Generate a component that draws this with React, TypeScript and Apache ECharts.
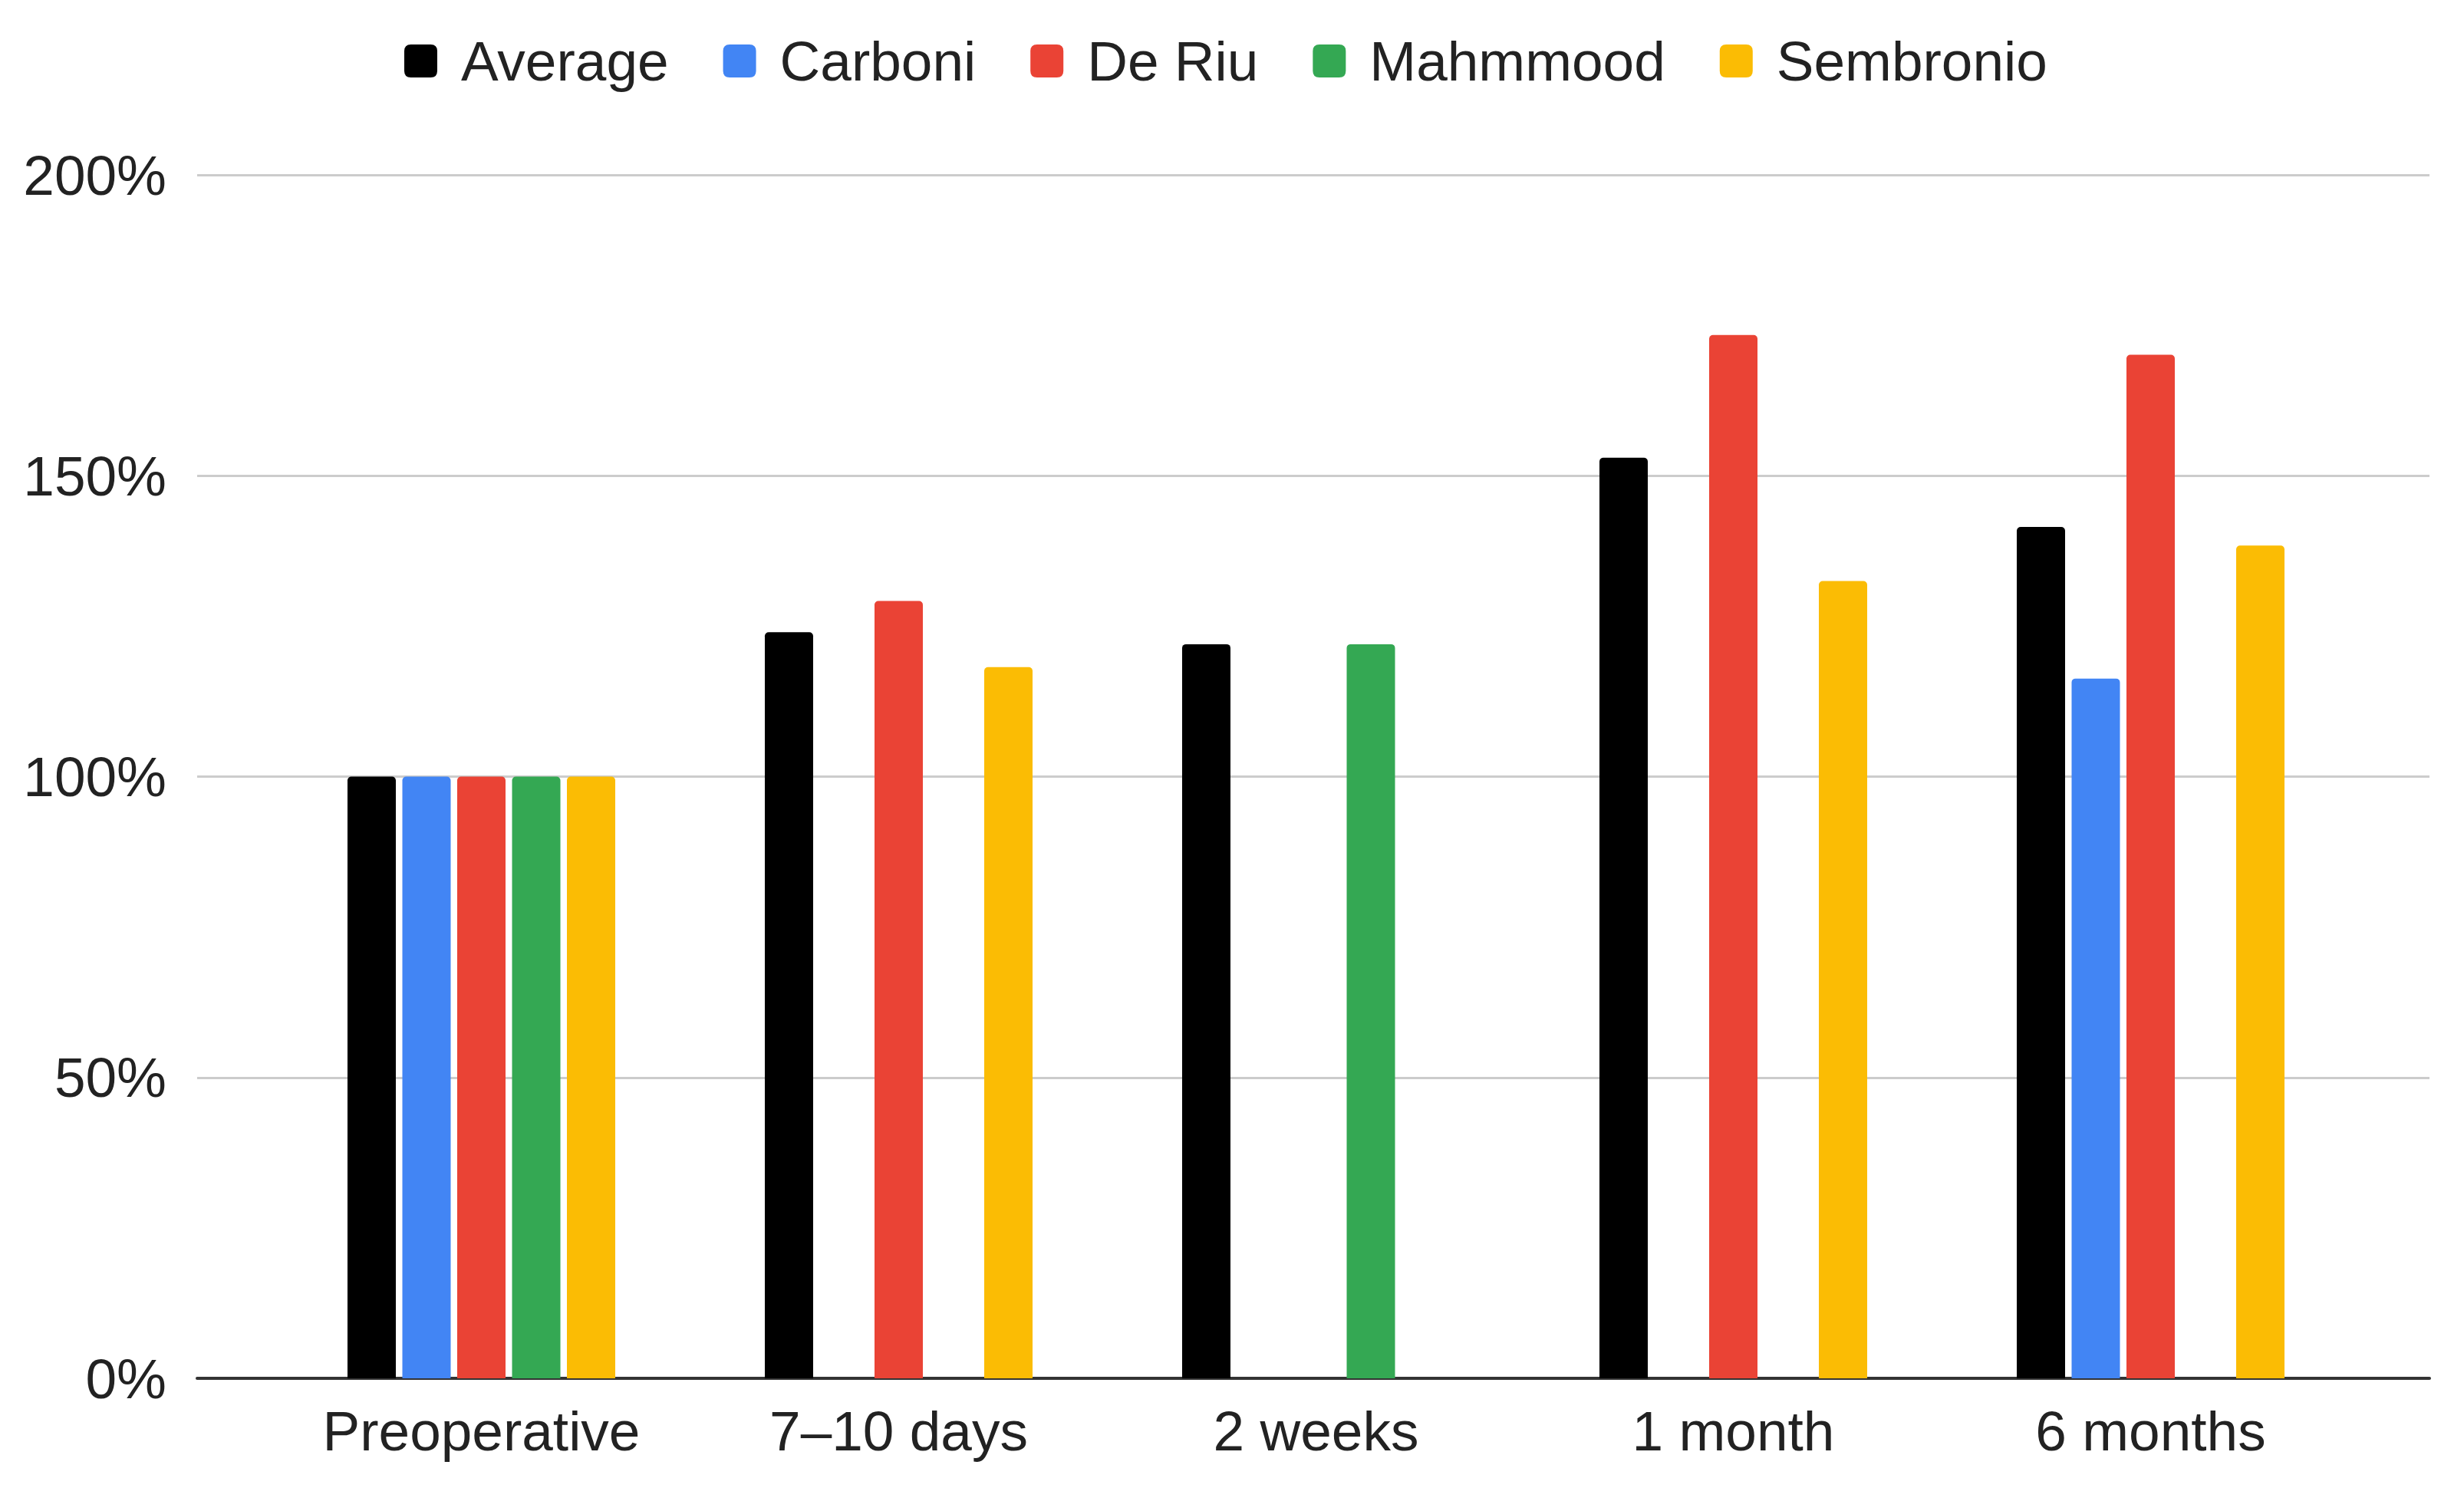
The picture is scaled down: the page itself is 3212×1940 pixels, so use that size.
import React, { useEffect, useRef } from "react";
import * as echarts from "echarts";

const categories = ["Preoperative", "7–10 days", "2 weeks", "1 month", "6 months"];
const seriesNames = ["Average", "Carboni", "De Riu", "Mahmmood", "Sembronio"];
const seriesColors = ["#000000", "#4285F4", "#EA4335", "#34A853", "#FBBC04"];
const averageValues = [100, 124.0, 122.0, 153.0, 141.5];
const carboniValues = [100, null, null, null, 116.3];
const deRiuValues = [100, 129.2, null, 173.4, 170.1];
const mahmmoodValues = [100, null, 122.0, null, null];
const sembronioValues = [100, 118.2, null, 132.5, 138.4];
const yTicks = [0, 50, 100, 150, 200];

const seriesValues = [averageValues, carboniValues, deRiuValues, mahmmoodValues, sembronioValues];

export default function App() {
  const ref = useRef<HTMLDivElement>(null);
  useEffect(() => {
    document.body.style.margin = "0";
    const chart = echarts.init(ref.current!, null, { renderer: "svg" });
    const font = "'Liberation Sans', Arial, sans-serif";
    const yMin = yTicks[0];
    const yMax = yTicks[yTicks.length - 1];
    const yInterval = yTicks[1] - yTicks[0];
    chart.setOption({
      animation: false,
      backgroundColor: "#ffffff",
      textStyle: { fontFamily: font },
      legend: {
        data: seriesNames,
        left: 527,
        top: 43,
        padding: 0,
        itemWidth: 43,
        itemHeight: 43,
        itemGap: 71,
        icon: "path://M2,0 L8,0 Q10,0 10,2 L10,8 Q10,10 8,10 L2,10 Q0,10 0,8 L0,2 Q0,0 2,0 Z",
        textStyle: {
          fontFamily: font,
          fontSize: 73,
          color: "#222222",
          padding: [0, 0, 0, 26],
        },
      },
      grid: [
        { left: 257, right: 45, top: 228, bottom: 143, containLabel: false },
        { left: 355.5, right: 136.5, top: 228, bottom: 143, containLabel: false },
      ],
      xAxis: [
        {
          type: "value",
          gridIndex: 0,
          min: 0,
          max: 1,
          axisLine: { show: true, onZero: false, lineStyle: { color: "#333333", width: 4 } },
          axisTick: { show: false },
          axisLabel: { show: false },
          splitLine: { show: false },
        },
        {
          type: "category",
          gridIndex: 1,
          data: categories,
          axisLine: { show: false },
          axisTick: { show: false },
          axisLabel: {
            fontFamily: font,
            fontSize: 73,
            color: "#222222",
            margin: 32,
          },
          splitLine: { show: false },
        },
      ],
      yAxis: [
        {
          type: "value",
          gridIndex: 0,
          min: yMin,
          max: yMax,
          interval: yInterval,
          axisLine: { show: false },
          axisTick: { show: false },
          axisLabel: {
            formatter: "{value}%",
            fontFamily: font,
            fontSize: 73,
            color: "#222222",
            margin: 40,
          },
          splitLine: { show: true, lineStyle: { color: "#cccccc", width: 3 } },
        },
        {
          type: "value",
          gridIndex: 1,
          min: yMin,
          max: yMax,
          interval: yInterval,
          show: false,
          splitLine: { show: false },
        },
      ],
      series: seriesNames.map((name, i) => ({
        name,
        type: "bar",
        xAxisIndex: 1,
        yAxisIndex: 1,
        data: seriesValues[i],
        barWidth: 63,
        barGap: "13.5%",
        itemStyle: { color: seriesColors[i], borderRadius: [5, 5, 0, 0] },
        z: 3,
      })),
    });
    return () => chart.dispose();
  }, []);
  return (
    <div
      ref={ref}
      style={{ position: "absolute", left: 0, top: 0, width: 3212, height: 1940 }}
    />
  );
}
